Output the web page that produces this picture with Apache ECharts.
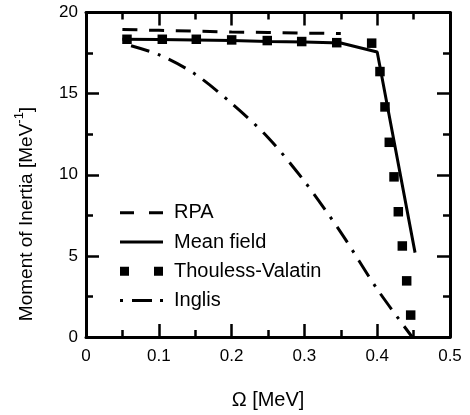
<!DOCTYPE html>
<html>
<head>
<meta charset="utf-8">
<script src="https://cdn.jsdelivr.net/npm/echarts@6/dist/echarts.min.js"></script>
<style>
html,body{margin:0;padding:0;background:#fff;}
#chart{width:470px;height:415px;}
</style>
</head>
<body>
<div id="chart"></div>
<script>
// ---- data ----
const rpaOmega = [0.05, 0.10, 0.15, 0.20, 0.25, 0.30, 0.35];
const rpaInertia = [18.95, 18.90, 18.85, 18.80, 18.77, 18.73, 18.70];

const mfOmega = [0.05, 0.10, 0.15, 0.20, 0.25, 0.30, 0.35, 0.40, 0.452];
const mfInertia = [18.35, 18.33, 18.30, 18.27, 18.22, 18.18, 18.12, 17.57, 5.2];

const tvOmega = [0.0563, 0.1048, 0.1515, 0.2001, 0.2490, 0.2963, 0.3444, 0.3924,
                 0.4038, 0.4107, 0.4166, 0.4231, 0.4290, 0.4345, 0.4405, 0.4460];
const tvInertia = [18.35, 18.35, 18.35, 18.31, 18.27, 18.21, 18.14, 18.11,
                   16.36, 14.18, 12.00, 9.87, 7.72, 5.61, 3.46, 1.35];

const inglisOmega = [0.05, 0.10, 0.15, 0.20, 0.25, 0.30, 0.35, 0.40, 0.448];
const inglisInertia = [18.1, 17.4, 16.2, 14.4, 12.3, 9.6, 6.45, 2.95, 0.0];

const seriesNames = ['RPA', 'Mean field', 'Thouless-Valatin', 'Inglis'];
const xTitle = 'Ω [MeV]';
const yTitleMain = 'Moment of Inertia [MeV';
const yTitleSup = '-1';

const zip = (a, b) => a.map((v, i) => [v, b[i]]);
const FONT = '"Liberation Sans", Arial, Helvetica, sans-serif';

const chart = echarts.init(document.getElementById('chart'), null, {renderer: 'canvas'});

const baseX = {
  type: 'value', min: 0, max: 0.5, interval: 0.1,
  axisLine: {show: true, onZero: false, lineStyle: {color: '#000', width: 3}},
  axisTick: {show: true, inside: true, length: 13, lineStyle: {color: '#000', width: 2.5}},
  minorTick: {show: true, splitNumber: 2, length: 7, lineStyle: {color: '#000', width: 2.5}},
  splitLine: {show: false}
};
const baseY = {
  type: 'value', min: 0, max: 20, interval: 5,
  axisLine: {show: true, onZero: false, lineStyle: {color: '#000', width: 3}},
  axisTick: {show: true, inside: true, length: 13, lineStyle: {color: '#000', width: 2.5}},
  minorTick: {show: true, splitNumber: 2, length: 7, lineStyle: {color: '#000', width: 2.5}},
  splitLine: {show: false}
};

const option = {
  animation: false,
  backgroundColor: '#fff',
  textStyle: {fontFamily: FONT},
  grid: {left: 86, right: 20, top: 12.5, bottom: 77, containLabel: false},
  xAxis: [
    Object.assign({}, baseX, {
      position: 'bottom',
      axisLabel: {show: true, color: '#000', fontSize: 17, fontFamily: FONT, margin: 11},
      name: xTitle, nameLocation: 'middle', nameGap: 53,
      nameTextStyle: {color: '#000', fontSize: 20, fontFamily: FONT}
    }),
    Object.assign({}, baseX, {position: 'top', axisLabel: {show: false}})
  ],
  yAxis: [
    Object.assign({}, baseY, {
      position: 'left',
      axisLabel: {show: true, color: '#000', fontSize: 17, fontFamily: FONT, margin: 8}
    }),
    Object.assign({}, baseY, {position: 'right', axisLabel: {show: false}})
  ],
  legend: {
    orient: 'vertical', left: 115, top: 197.7,
    itemWidth: 43, itemHeight: 9, itemGap: 9.3,
    symbolKeepAspect: true,
    itemStyle: {color: '#000', borderWidth: 0},
    textStyle: {color: '#000', fontSize: 20, fontFamily: FONT, lineHeight: 20, padding: [0, 0, 0, 6]},
    selectedMode: false,
    data: [
      {name: seriesNames[0], icon: 'path://M0,0h14v3h-14z M29,0h14v3h-14z'},
      {name: seriesNames[1], icon: 'path://M0,0h43v3h-43z'},
      {name: seriesNames[2], icon: 'path://M0,0h9v9h-9z M34,0h9v9h-9z'},
      {name: seriesNames[3], icon: 'path://M0,0h3v3h-3z M12,0h20v3h-20z M40,0h3v3h-3z'}
    ]
  },
  graphic: [{
    type: 'text', x: 27, y: 214, rotation: Math.PI / 2,
    style: {
      text: '{a|' + yTitleMain + '}{s|' + yTitleSup + '}{a|]}',
      align: 'center', verticalAlign: 'middle',
      fill: '#000',
      rich: {
        a: {fontSize: 19, fontFamily: FONT, fill: '#000', lineHeight: 22},
        s: {fontSize: 13, fontFamily: FONT, fill: '#000', padding: [0, 0, 16, 0]}
      }
    }
  }],
  series: [
    {
      name: seriesNames[0], type: 'line', data: zip(rpaOmega, rpaInertia),
      showSymbol: false, symbol: 'none', color: '#000',
      lineStyle: {color: '#000', width: 3, type: [15, 11.7]}, z: 3
    },
    {
      name: seriesNames[1], type: 'line', data: zip(mfOmega, mfInertia),
      showSymbol: false, symbol: 'none', color: '#000',
      lineStyle: {color: '#000', width: 3, type: 'solid'}, z: 3
    },
    {
      name: seriesNames[2], type: 'scatter', data: zip(tvOmega, tvInertia),
      symbol: 'rect', symbolSize: 9.5, color: '#000',
      itemStyle: {color: '#000', opacity: 1}, z: 4
    },
    {
      name: seriesNames[3], type: 'line', data: zip(inglisOmega, inglisInertia),
      showSymbol: false, symbol: 'none', color: '#000', smooth: 0.3,
      lineStyle: {color: '#000', width: 3, type: [19, 9, 3, 9], dashOffset: 31}, z: 3
    }
  ]
};
chart.setOption(option);
</script>
</body>
</html>
